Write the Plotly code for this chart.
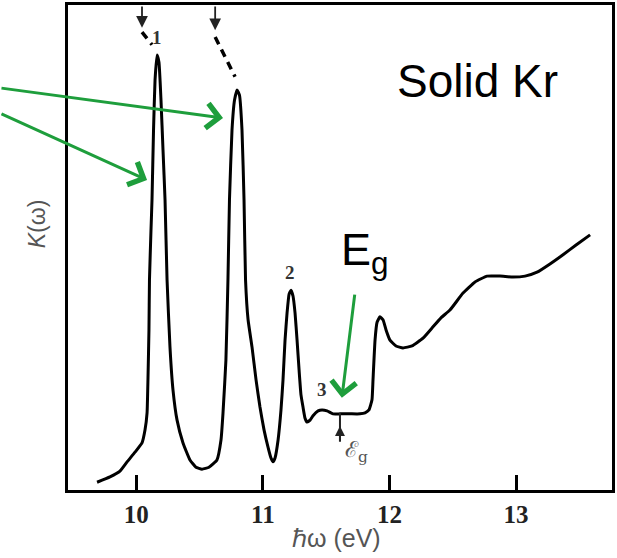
import plotly.graph_objects as go

# Absorption spectrum of solid Kr (photon energy in eV, K in arbitrary units)
energy = [9.690, 9.792, 9.871, 9.927, 9.990, 10.045, 10.069, 10.085, 10.092, 10.100,
          10.104, 10.116, 10.124, 10.136, 10.148, 10.164, 10.179, 10.195, 10.211, 10.227,
          10.243, 10.266, 10.290, 10.322, 10.369, 10.424, 10.471, 10.519, 10.574, 10.637,
          10.669, 10.685, 10.708, 10.724, 10.736, 10.756, 10.776, 10.796, 10.815, 10.835,
          10.851, 10.863, 10.883, 10.914, 10.946, 10.977, 11.009, 11.040, 11.064, 11.080,
          11.096, 11.120, 11.143, 11.159, 11.175, 11.191, 11.207, 11.222, 11.238, 11.254,
          11.270, 11.286, 11.301, 11.317, 11.333, 11.349, 11.373, 11.396, 11.436, 11.467,
          11.507, 11.554, 11.609, 11.688, 11.767, 11.807, 11.838, 11.862, 11.870, 11.886,
          11.902, 11.925, 11.949, 11.973, 12.004, 12.052, 12.107, 12.178, 12.265, 12.336,
          12.407, 12.478, 12.581, 12.676, 12.771, 12.873, 12.976, 13.071, 13.166, 13.268,
          13.371, 13.474, 13.585]
absorption = [1.6, 2.7, 3.9, 5.8, 7.8, 9.7, 12.4, 15.9, 22.7, 33.0,
              43.3, 53.6, 59.8, 74.2, 84.5, 89.7, 88.2, 80.4, 70.1, 59.8,
              43.3, 29.5, 20.6, 14.4, 9.7, 6.2, 4.7, 4.3, 4.7, 6.2,
              10.3, 15.9, 26.8, 43.3, 59.8, 74.2, 80.4, 82.5, 81.4, 74.2,
              59.8, 43.3, 35.1, 29.5, 22.7, 17.1, 12.4, 8.9, 6.6, 5.8,
              6.6, 10.3, 16.5, 22.7, 30.9, 36.5, 40.4, 41.2, 40.0, 36.5,
              30.9, 24.7, 19.6, 17.1, 14.8, 14.0, 14.4, 15.3, 16.3, 16.5,
              16.3, 15.7, 15.7, 15.7, 15.7, 15.9, 16.5, 18.6, 22.7, 30.9,
              34.6, 35.7, 35.1, 33.0, 30.9, 29.7, 29.3, 29.7, 31.3, 33.4,
              35.5, 37.1, 40.6, 42.9, 44.1, 44.1, 43.9, 44.1, 44.9, 46.6,
              48.5, 50.5, 52.6]

# Extrapolated (dashed) peak extensions
dash1_e = [10.045, 10.124]
dash1_k = [94.4, 91.8]
dash2_e = [10.623, 10.780]
dash2_k = [93.4, 85.2]

# Marker arrows at top (energies)
top_arrow_e = [10.045, 10.623]
top_arrow_k = [95.3, 94.8]

# Peak labels
peak_label_text = ["1", "2", "3"]
peak_label_e = [10.164, 11.215, 11.465]
peak_label_k = [93.2, 44.8, 20.8]

# Band gap energy marker
eg_energy = 11.609
eg_line_k = [9.7, 15.9]
eg_head_k = 13.2

tick_vals = [10, 11, 12, 13]
tick_text = ["10", "11", "12", "13"]

GREEN = "#1e9e3c"

fig = go.Figure()
fig.add_trace(go.Scatter(x=energy, y=absorption, mode="lines",
                         line=dict(color="black", width=3, shape="spline", smoothing=0.4),
                         hoverinfo="skip", showlegend=False))
for de, dk in [(dash1_e, dash1_k), (dash2_e, dash2_k)]:
    fig.add_trace(go.Scatter(x=de, y=dk, mode="lines",
                             line=dict(color="black", width=3.5, dash="8px,6px"),
                             hoverinfo="skip", showlegend=False))

ann = []
# top black arrows
for e, k in zip(top_arrow_e, top_arrow_k):
    ann.append(dict(x=e, y=k, ax=e, ay=100, xref="x", yref="y", axref="x", ayref="y",
                    text="", showarrow=True, arrowhead=2, arrowsize=1.3, arrowwidth=1.8,
                    arrowcolor="#222"))
# Eg small black marker: stem + up arrow head
ann.append(dict(x=eg_energy, y=eg_line_k[1], ax=eg_energy, ay=eg_line_k[0], xref="x", yref="y",
                axref="x", ayref="y", text="", showarrow=True, arrowhead=0,
                arrowwidth=2, arrowcolor="#222"))
ann.append(dict(x=eg_energy, y=eg_head_k, ax=eg_energy, ay=eg_line_k[0], xref="x", yref="y",
                axref="x", ayref="y", text="", showarrow=True, arrowhead=2, arrowsize=1.0,
                arrowwidth=2, arrowcolor="#222"))
ann.append(dict(x=eg_energy + 0.025, y=8.0, xref="x", yref="y", text="ℰ<sub>g</sub>",
                showarrow=False, xanchor="left", yanchor="middle",
                font=dict(family="DejaVu Serif", size=22, color="#555")))
# peak labels
for t, e, k in zip(peak_label_text, peak_label_e, peak_label_k):
    ann.append(dict(x=e, y=k, xref="x", yref="y", text=t, showarrow=False,
                    font=dict(family="Liberation Serif", size=19, color="#333", weight="bold")))
# green arrows
ann.append(dict(x=10.685, y=76.7, ax=8.923, ay=82.9, xref="x", yref="y", axref="x", ayref="y",
                text="", showarrow=True, arrowhead=4, arrowsize=1.6, arrowwidth=3,
                arrowcolor=GREEN, standoff=0))
ann.append(dict(x=10.085, y=63.9, ax=8.923, ay=77.7, xref="x", yref="y", axref="x", ayref="y",
                text="", showarrow=True, arrowhead=4, arrowsize=1.6, arrowwidth=3,
                arrowcolor=GREEN, standoff=0))
ann.append(dict(x=11.624, y=19.0, ax=11.727, ay=40.6, xref="x", yref="y", axref="x", ayref="y",
                text="", showarrow=True, arrowhead=4, arrowsize=1.6, arrowwidth=3,
                arrowcolor=GREEN, standoff=0))
# texts
ann.append(dict(x=12.692, y=84.3, xref="x", yref="y", text="Solid Kr", showarrow=False,
                xanchor="center", yanchor="middle",
                font=dict(family="Liberation Sans", size=46, color="black")))
ann.append(dict(x=11.60, y=49.0, xref="x", yref="y", text="E<sub>g</sub>", showarrow=False,
                xanchor="left", yanchor="middle",
                font=dict(family="Liberation Sans", size=45, color="black")))
# axis titles
ann.append(dict(x=0.493, y=-0.099, xref="paper", yref="paper", text="ℏω (eV)",
                showarrow=False, xanchor="center", yanchor="middle",
                font=dict(family="Liberation Sans", size=25, color="#555")))
ann.append(dict(x=-0.057, y=0.55, xref="paper", yref="paper", text="<i>K</i>(ω)",
                showarrow=False, xanchor="center", yanchor="middle", textangle=-90,
                font=dict(family="Liberation Sans", size=23, color="#555")))

fig.update_layout(
    width=617, height=558,
    margin=dict(l=68, r=5, t=5, b=68),
    paper_bgcolor="white", plot_bgcolor="white",
    annotations=ann,
    xaxis=dict(range=[9.4604, 13.758], tickvals=tick_vals, ticktext=tick_text,
               ticks="inside", ticklen=15, tickwidth=2.5, tickcolor="black",
               showline=True, linewidth=3, linecolor="black", mirror=True,
               showgrid=False, zeroline=False, automargin=False,
               tickfont=dict(family="Liberation Serif", size=25, color="#222", weight="bold")),
    yaxis=dict(range=[0, 100], showticklabels=False, ticks="",
               showline=True, linewidth=3, linecolor="black", mirror=True,
               showgrid=False, zeroline=False, automargin=False),
)

fig.write_html("out.html", config={"displayModeBar": False},
               post_script="document.body.style.margin='0';document.body.style.overflow='hidden';")
